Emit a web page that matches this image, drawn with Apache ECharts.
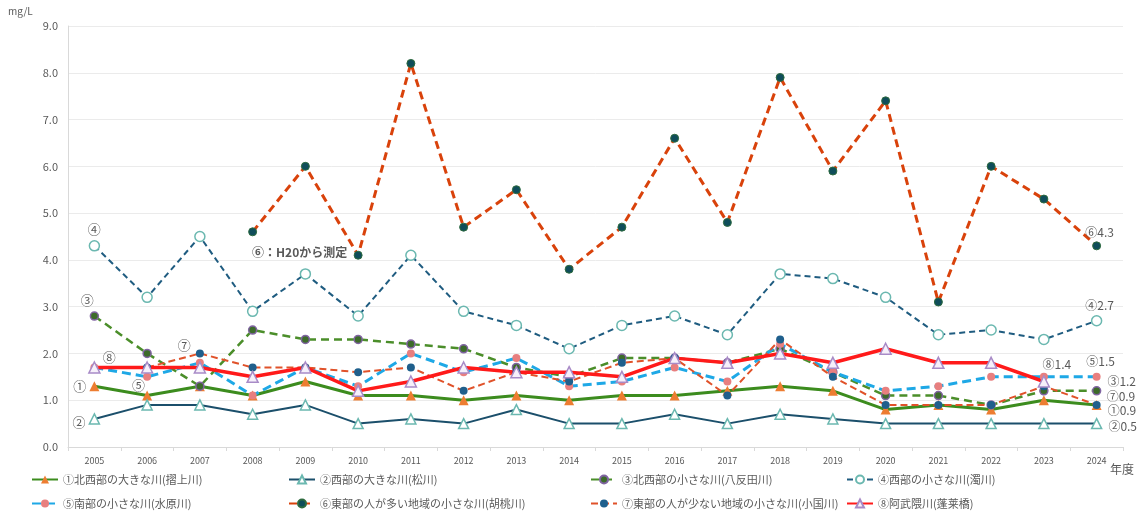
<!DOCTYPE html>
<html lang="ja">
<head>
<meta charset="utf-8">
<title>河川水質の経年変化</title>
<script src="https://cdn.jsdelivr.net/npm/echarts@6/dist/echarts.min.js"></script>
<style>
  html, body { margin: 0; padding: 0; background: #fff; }
  #chart { width: 1141px; height: 517px; }
</style>
</head>
<body>
<div id="chart"></div>
<script>
// 年度
const years = ['2005','2006','2007','2008','2009','2010','2011','2012','2013','2014',
               '2015','2016','2017','2018','2019','2020','2021','2022','2023','2024'];

// 各河川の測定値 (mg/L)
const river1 = [1.3,1.1,1.3,1.1,1.4,1.1,1.1,1.0,1.1,1.0,1.1,1.1,1.2,1.3,1.2,0.8,0.9,0.8,1.0,0.9];
const river2 = [0.6,0.9,0.9,0.7,0.9,0.5,0.6,0.5,0.8,0.5,0.5,0.7,0.5,0.7,0.6,0.5,0.5,0.5,0.5,0.5];
const river3 = [2.8,2.0,1.3,2.5,2.3,2.3,2.2,2.1,1.7,1.5,1.9,1.9,1.8,2.1,1.6,1.1,1.1,0.9,1.2,1.2];
const river4 = [4.3,3.2,4.5,2.9,3.7,2.8,4.1,2.9,2.6,2.1,2.6,2.8,2.4,3.7,3.6,3.2,2.4,2.5,2.3,2.7];
const river5 = [1.7,1.5,1.8,1.1,1.7,1.3,2.0,1.6,1.9,1.3,1.4,1.7,1.4,2.2,1.6,1.2,1.3,1.5,1.5,1.5];
const river6 = [null,null,null,4.6,6.0,4.1,8.2,4.7,5.5,3.8,4.7,6.6,4.8,7.9,5.9,7.4,3.1,6.0,5.3,4.3];
const river7 = [null,1.7,2.0,1.7,1.7,1.6,1.7,1.2,1.6,1.4,1.8,1.9,1.1,2.3,1.5,0.9,0.9,0.9,1.3,0.9];
const river8 = [1.7,1.7,1.7,1.5,1.7,1.2,1.4,1.7,1.6,1.6,1.5,1.9,1.8,2.0,1.8,2.1,1.8,1.8,1.4,null];

// 凡例名
const names = [
  '①北西部の大きな川(摺上川)',
  '②西部の大きな川(松川)',
  '③北西部の小さな川(八反田川)',
  '④西部の小さな川(濁川)',
  '⑤南部の小さな川(水原川)',
  '⑥東部の人が多い地域の小さな川(胡桃川)',
  '⑦東部の人が少ない地域の小さな川(小国川)',
  '⑧阿武隈川(蓬莱橋)'
];
const marks = ['①','②','③','④','⑤','⑥','⑦','⑧'];

const yTicks = [0,1,2,3,4,5,6,7,8,9];

const FONT = "'Noto Sans CJK JP', 'Noto Sans', sans-serif";
const TEXT = '#595959';

// 系列ごとの番号ラベル・最新値ラベルの配置
function withLabels(values, seriesIdx, extra) {
  return values.map((v, i) => {
    const cfg = extra[i];
    if (!cfg || v == null) return v;
    const lbl = Object.assign({
      show: true, color: TEXT, fontFamily: FONT, fontSize: 12
    }, cfg);
    if (cfg.valueLabel) {
      lbl.formatter = marks[seriesIdx] + v.toFixed(1);
      delete lbl.valueLabel;
    }
    return { value: v, label: lbl };
  });
}

const last = years.length - 1;

const data1 = withLabels(river1, 0, {
  0: { formatter: '①', position: 'left', distance: 3, fontSize: 13 },
  [last]: { valueLabel: true, position: 'right', distance: 6, offset: [0, 6] }
});
const data2 = withLabels(river2, 1, {
  0: { formatter: '②', position: 'left', distance: 3, offset: [0, 3], fontSize: 13 },
  [last]: { valueLabel: true, position: 'right', distance: 6, offset: [0, 3] }
});
const data3 = withLabels(river3, 2, {
  0: { formatter: '③', position: 'top', distance: 5, offset: [-7, 0], fontSize: 13 },
  [last]: { valueLabel: true, position: 'right', distance: 6, offset: [0, -9] }
});
const data4 = withLabels(river4, 3, {
  0: { formatter: '④', position: 'top', distance: 5, fontSize: 13 },
  [last]: { valueLabel: true, position: 'top', distance: 4, offset: [3, 0] }
});
const data5 = withLabels(river5, 4, {
  1: { formatter: '⑤', position: 'left', distance: 0, offset: [2, 8], fontSize: 13 },
  [last]: { valueLabel: true, position: 'top', distance: 5, offset: [4, 0] }
});
const data6 = withLabels(river6, 5, {
  3: { formatter: '⑥：H20から測定', position: 'bottom', distance: 6, offset: [47, 4],
       fontWeight: 'bold' },
  [last]: { valueLabel: true, position: 'top', distance: 3, offset: [3, 0] }
});
const data7 = withLabels(river7, 6, {
  2: { formatter: '⑦', position: 'left', distance: 5, offset: [0, -8], fontSize: 13 },
  [last]: { valueLabel: true, position: 'right', distance: 6, offset: [0, -8] }
});
const data8 = withLabels(river8, 7, {
  0: { formatter: '⑧', position: 'right', distance: 2, offset: [0, -10], fontSize: 13 },
  18: { valueLabel: true, position: 'top', distance: 3, offset: [13, -2] }
});

function line(name, data, lineColor, width, type, symbol, size, fill, border, borderW) {
  return {
    name: name,
    type: 'line',
    data: data,
    symbol: symbol,
    symbolSize: size,
    showSymbol: true,
    connectNulls: false,
    lineStyle: { color: lineColor, width: width, type: type },
    itemStyle: { color: fill, borderColor: border || fill, borderWidth: borderW || 0 },
    emphasis: { disabled: true },
    animation: false
  };
}

const series = [
  line(names[0], data1, '#3C8C1E', 3,   'solid',  'triangle', 10, '#ED7D31'),
  line(names[1], data2, '#1B4F6B', 2,   'solid',  'triangle', 10, '#FFFFFF', '#6BB8B0', 1.5),
  line(names[2], data3, '#4B8E2A', 2.5, [8, 5],   'circle',   8,  '#3D6B2A', '#8064A2', 1.5),
  line(names[3], data4, '#1F5C80', 2,   [6, 4],   'circle',   10, '#FFFFFF', '#6BB8B0', 1.5),
  line(names[4], data5, '#1EA8E6', 3,   [9, 5],   'circle',   8,  '#E87F7F'),
  line(names[5], data6, '#D9420B', 3,   [8, 5],   'circle',   8,  '#0F4D5A', '#2E6B3F', 1),
  line(names[6], data7, '#E0522A', 2,   [7, 4],   'circle',   8,  '#1F5F8C'),
  line(names[7], data8, '#FF1A1A', 3.5, 'solid',  'triangle', 11, '#F6F0FA', '#A88BC7', 1.5)
];

// 凡例は 4 列 × 2 行で配置
const legendCols = [31, 288, 590, 846];
const legendRows = [474, 498];
const legends = names.map((n, i) => ({
  data: [n],
  left: legendCols[i % 4],
  top: legendRows[Math.floor(i / 4)],
  padding: 0,
  itemWidth: 26,
  itemHeight: 10,
  itemGap: 0,
  textStyle: { color: TEXT, fontFamily: FONT, fontSize: 11 },
  selectedMode: false
}));

const chart = echarts.init(document.getElementById('chart'), null, { renderer: 'canvas' });
chart.setOption({
  backgroundColor: '#FFFFFF',
  animation: false,
  textStyle: { fontFamily: FONT },
  grid: { left: 68, right: 18, top: 26, bottom: 70, containLabel: false },
  legend: legends,
  xAxis: {
    type: 'category',
    data: years,
    boundaryGap: true,
    axisLine: { show: true, lineStyle: { color: '#D9D9D9', width: 1 } },
    axisTick: { show: true, lineStyle: { color: '#D9D9D9' }, length: 4 },
    axisLabel: { color: TEXT, fontSize: 9, margin: 9, fontFamily: FONT }
  },
  yAxis: {
    type: 'value',
    min: yTicks[0],
    max: yTicks[yTicks.length - 1],
    interval: 1,
    axisLine: { show: true, lineStyle: { color: '#D9D9D9', width: 1 } },
    axisTick: { show: false },
    axisLabel: { color: TEXT, fontSize: 11, margin: 10, fontFamily: FONT,
                 formatter: v => v.toFixed(1) },
    splitLine: { show: true, lineStyle: { color: '#EBEBEB', width: 1 } }
  },
  graphic: [
    { type: 'text', left: 8, top: 6,
      style: { text: 'mg/L', fill: TEXT, font: "10px 'Noto Sans CJK JP', sans-serif" } },
    { type: 'text', left: 1110, top: 463,
      style: { text: '年度', fill: TEXT, font: "12px 'Noto Sans CJK JP', sans-serif" } }
  ],
  series: series
});
</script>
</body>
</html>
